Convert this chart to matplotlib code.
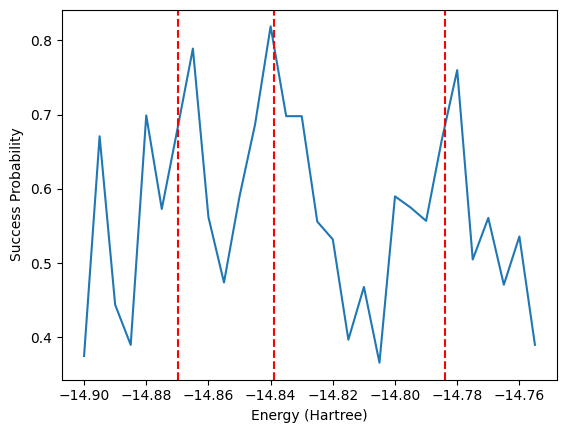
import numpy as np
import matplotlib
matplotlib.use('Agg')
import matplotlib.pyplot as plt

# energies scanned (Hartree) and measured success probability
energies = np.round(np.arange(-14.900, -14.7549, 0.005), 3)
success_prob = [
    0.375, 0.671, 0.444, 0.390, 0.699, 0.573, 0.680, 0.789, 0.562, 0.474,
    0.590, 0.687, 0.819, 0.698, 0.698, 0.556, 0.532, 0.397, 0.468, 0.366,
    0.590, 0.575, 0.557, 0.665, 0.760, 0.505, 0.561, 0.471, 0.536, 0.390,
]
# reference energies marked with dashed lines
ref_energies = [-14.8697, -14.8388, -14.7840]

fig = plt.figure(figsize=(5.67, 4.32), dpi=100)
ax = fig.add_axes([0.1085, 0.1215, 0.8747, 0.8565])
ax.plot(energies, success_prob, color='#1f77b4')
for e in ref_energies:
    ax.axvline(e, color='red', linestyle='--')
ax.set_xlabel('Energy (Hartree)')
ax.set_ylabel('Success Probability')
fig.savefig('out.png', dpi=100)
plt.close(fig)
